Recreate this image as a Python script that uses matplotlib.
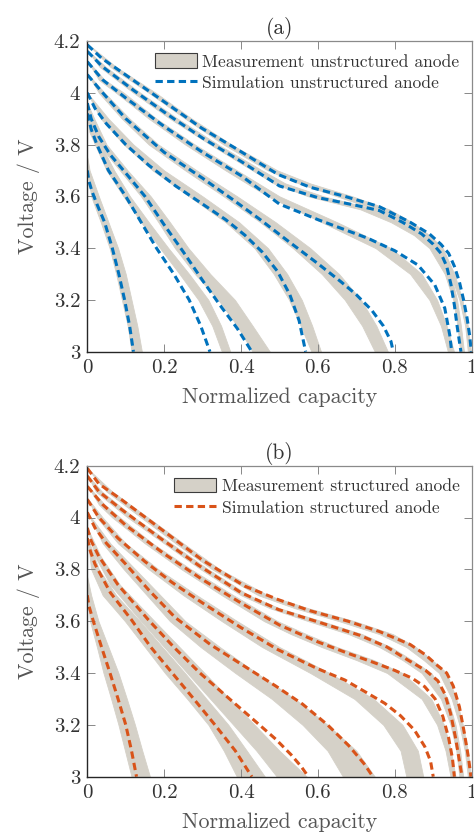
import matplotlib
matplotlib.use("Agg")
import matplotlib.pyplot as plt
from matplotlib.patches import Patch
from matplotlib.lines import Line2D

plt.rcParams['font.family'] = ['cmr10', 'DejaVu Serif']
plt.rcParams['axes.formatter.use_mathtext'] = True
plt.rcParams['mathtext.fontset'] = 'cm'

# ---------------- data: panel (a) unstructured anode ----------------
# simulation curves (capacity, voltage)
a_sim_x = [
    [0, 0.037, 0.124, 0.211, 0.297, 0.384, 0.497, 0.58, 0.67, 0.76, 0.84, 0.89, 0.92, 0.94, 0.955, 0.968, 0.979, 0.988, 0.995, 0.999],
    [0, 0.04, 0.12, 0.21, 0.30, 0.40, 0.50, 0.60, 0.70, 0.76, 0.82, 0.87, 0.90, 0.92, 0.935, 0.946, 0.955, 0.962, 0.968, 0.972],
    [0, 0.04, 0.10, 0.20, 0.30, 0.40, 0.50, 0.60, 0.73, 0.80, 0.86, 0.904, 0.93, 0.943, 0.948],
    [0, 0.04, 0.10, 0.20, 0.30, 0.38, 0.45, 0.52, 0.60, 0.66, 0.70, 0.74, 0.77, 0.79, 0.796],
    [0, 0.02, 0.05, 0.10, 0.16, 0.23, 0.30, 0.36, 0.41, 0.455, 0.495, 0.527, 0.551, 0.568],
    [0, 0.01, 0.03, 0.06, 0.10, 0.15, 0.20, 0.25, 0.30, 0.345, 0.39, 0.428],
    [0, 0.01, 0.025, 0.055, 0.10, 0.14, 0.18, 0.225, 0.265, 0.295, 0.319],
    [0, 0.004, 0.012, 0.025, 0.045, 0.065, 0.082, 0.097, 0.11, 0.12],
]
a_sim_v = [
    [4.185, 4.134, 4.044, 3.954, 3.864, 3.787, 3.684, 3.635, 3.60, 3.56, 3.50, 3.455, 3.415, 3.38, 3.33, 3.27, 3.20, 3.13, 3.06, 3.0],
    [4.16, 4.10, 4.01, 3.915, 3.825, 3.735, 3.64, 3.595, 3.565, 3.545, 3.50, 3.455, 3.415, 3.38, 3.33, 3.26, 3.18, 3.10, 3.04, 3.0],
    [4.12, 4.05, 3.98, 3.87, 3.77, 3.68, 3.57, 3.51, 3.438, 3.39, 3.335, 3.258, 3.168, 3.064, 3.0],
    [4.07, 4.0, 3.90, 3.77, 3.67, 3.586, 3.51, 3.43, 3.34, 3.27, 3.22, 3.16, 3.10, 3.04, 3.0],
    [4.0, 3.94, 3.88, 3.80, 3.72, 3.64, 3.57, 3.51, 3.45, 3.385, 3.31, 3.22, 3.12, 3.0],
    [3.96, 3.90, 3.83, 3.76, 3.69, 3.60, 3.49, 3.385, 3.275, 3.18, 3.09, 3.0],
    [3.92, 3.86, 3.80, 3.70, 3.60, 3.50, 3.40, 3.30, 3.20, 3.10, 3.0],
    [3.70, 3.66, 3.62, 3.57, 3.50, 3.40, 3.30, 3.20, 3.10, 3.0],
]
# measurement bands: voltage levels with left / right capacity edge
a_band_v = [
    [4.19, 4.1, 4.0, 3.9, 3.8, 3.7, 3.65, 3.6, 3.55, 3.5, 3.45, 3.4, 3.3, 3.2, 3.1, 3.0],
    [4.165, 4.1, 4.0, 3.9, 3.8, 3.7, 3.65, 3.6, 3.55, 3.5, 3.45, 3.4, 3.3, 3.2, 3.1, 3.0],
    [4.125, 4.05, 4.0, 3.9, 3.8, 3.7, 3.6, 3.55, 3.5, 3.45, 3.4, 3.3, 3.2, 3.1, 3.0],
    [4.075, 4.0, 3.9, 3.8, 3.7, 3.6, 3.5, 3.4, 3.3, 3.2, 3.1, 3.0],
    [4.0, 3.9, 3.8, 3.7, 3.6, 3.5, 3.4, 3.3, 3.2, 3.1, 3.0],
    [3.96, 3.9, 3.8, 3.7, 3.6, 3.5, 3.4, 3.3, 3.2, 3.1, 3.0],
    [3.925, 3.85, 3.8, 3.7, 3.6, 3.5, 3.4, 3.3, 3.2, 3.1, 3.0],
    [3.75, 3.7, 3.6, 3.5, 3.4, 3.3, 3.2, 3.1, 3.0],
]
a_band_lo = [
    [0, 0.06, 0.16, 0.255, 0.355, 0.47, 0.55, 0.65, 0.75, 0.82, 0.87, 0.905, 0.945, 0.968, 0.983, 0.99],
    [0, 0.032, 0.12, 0.215, 0.32, 0.43, 0.485, 0.575, 0.71, 0.79, 0.85, 0.89, 0.93, 0.952, 0.963, 0.97],
    [0, 0.03, 0.075, 0.16, 0.255, 0.36, 0.47, 0.54, 0.61, 0.68, 0.75, 0.84, 0.89, 0.92, 0.938],
    [0, 0.03, 0.09, 0.16, 0.255, 0.355, 0.45, 0.535, 0.61, 0.67, 0.715, 0.748],
    [0, 0.035, 0.095, 0.17, 0.265, 0.36, 0.435, 0.485, 0.525, 0.555, 0.583],
    [0, 0.005, 0.03, 0.085, 0.14, 0.185, 0.228, 0.28, 0.341, 0.39, 0.43],
    [0, 0.005, 0.02, 0.05, 0.094, 0.14, 0.189, 0.24, 0.289, 0.325, 0.35],
    [0, 0, 0.01, 0.035, 0.058, 0.075, 0.09, 0.105, 0.115],
]
a_band_hi = [
    [0, 0.075, 0.178, 0.272, 0.375, 0.495, 0.58, 0.69, 0.785, 0.845, 0.89, 0.925, 0.955, 0.976, 0.99, 0.998],
    [0, 0.048, 0.138, 0.235, 0.34, 0.455, 0.515, 0.615, 0.75, 0.815, 0.87, 0.91, 0.945, 0.962, 0.972, 0.98],
    [0, 0.045, 0.095, 0.18, 0.28, 0.39, 0.50, 0.575, 0.65, 0.72, 0.79, 0.87, 0.91, 0.935, 0.954],
    [0, 0.045, 0.11, 0.185, 0.285, 0.39, 0.49, 0.58, 0.655, 0.712, 0.752, 0.782],
    [0, 0.055, 0.12, 0.20, 0.30, 0.395, 0.47, 0.52, 0.558, 0.585, 0.608],
    [0, 0.018, 0.05, 0.105, 0.165, 0.215, 0.263, 0.32, 0.384, 0.43, 0.475],
    [0, 0.015, 0.035, 0.07, 0.111, 0.16, 0.211, 0.265, 0.315, 0.348, 0.372],
    [0, 0.006, 0.03, 0.055, 0.08, 0.10, 0.115, 0.13, 0.142],
]

# ---------------- data: panel (b) structured anode ----------------
b_sim_x = [
    [0, 0.03, 0.089, 0.194, 0.298, 0.41, 0.497, 0.58, 0.678, 0.76, 0.84, 0.88, 0.91, 0.935, 0.952, 0.968, 0.981, 0.992, 0.998],
    [0, 0.03, 0.09, 0.19, 0.29, 0.40, 0.497, 0.609, 0.71, 0.78, 0.834, 0.88, 0.912, 0.93, 0.945, 0.958, 0.967, 0.975],
    [0, 0.04, 0.10, 0.20, 0.30, 0.40, 0.50, 0.60, 0.68, 0.739, 0.80, 0.845, 0.878, 0.905, 0.925, 0.94, 0.95, 0.955],
    [0, 0.03, 0.08, 0.15, 0.22, 0.30, 0.40, 0.496, 0.597, 0.67, 0.72, 0.774, 0.815, 0.851, 0.878, 0.893, 0.9],
    [0, 0.02, 0.05, 0.10, 0.16, 0.228, 0.32, 0.41, 0.49, 0.56, 0.625, 0.68, 0.72, 0.743],
    [0, 0.01, 0.03, 0.08, 0.159, 0.225, 0.293, 0.37, 0.44, 0.49, 0.53, 0.556, 0.575],
    [0, 0.008, 0.02, 0.06, 0.115, 0.165, 0.221, 0.277, 0.332, 0.385, 0.428],
    [0, 0.004, 0.0157, 0.037, 0.059, 0.08, 0.10, 0.115, 0.128],
]
b_sim_v = [
    [4.19, 4.13, 4.069, 3.953, 3.837, 3.735, 3.683, 3.64, 3.60, 3.56, 3.51, 3.47, 3.43, 3.40, 3.35, 3.27, 3.168, 3.07, 3.0],
    [4.16, 4.10, 4.03, 3.92, 3.815, 3.71, 3.645, 3.593, 3.545, 3.50, 3.45, 3.41, 3.37, 3.32, 3.245, 3.15, 3.07, 3.0],
    [4.12, 4.05, 3.97, 3.86, 3.76, 3.67, 3.585, 3.52, 3.475, 3.444, 3.41, 3.38, 3.347, 3.30, 3.232, 3.15, 3.07, 3.0],
    [4.07, 4.0, 3.92, 3.83, 3.75, 3.67, 3.575, 3.49, 3.418, 3.373, 3.33, 3.283, 3.235, 3.18, 3.116, 3.06, 3.0],
    [4.02, 3.96, 3.90, 3.82, 3.72, 3.615, 3.51, 3.425, 3.35, 3.28, 3.20, 3.12, 3.05, 3.0],
    [3.96, 3.91, 3.85, 3.74, 3.605, 3.50, 3.40, 3.30, 3.21, 3.145, 3.085, 3.04, 3.0],
    [3.92, 3.87, 3.82, 3.71, 3.605, 3.50, 3.40, 3.30, 3.20, 3.10, 3.0],
    [3.70, 3.66, 3.60, 3.50, 3.40, 3.30, 3.20, 3.10, 3.0],
]
b_band_v = [
    [4.19, 4.1, 4.0, 3.9, 3.8, 3.7, 3.65, 3.6, 3.55, 3.5, 3.45, 3.4, 3.3, 3.2, 3.1, 3.0],
    [4.165, 4.1, 4.0, 3.9, 3.8, 3.7, 3.65, 3.6, 3.55, 3.5, 3.45, 3.4, 3.3, 3.2, 3.1, 3.0],
    [4.125, 4.05, 4.0, 3.9, 3.8, 3.7, 3.6, 3.55, 3.5, 3.45, 3.4, 3.3, 3.2, 3.1, 3.0],
    [4.075, 4.0, 3.9, 3.8, 3.7, 3.6, 3.5, 3.4, 3.3, 3.2, 3.1, 3.0],
    [4.02, 3.9, 3.8, 3.7, 3.6, 3.5, 3.4, 3.3, 3.2, 3.1, 3.0],
    [3.96, 3.85, 3.74, 3.6, 3.5, 3.4, 3.3, 3.2, 3.1, 3.0],
    [3.925, 3.8, 3.7, 3.6, 3.5, 3.4, 3.3, 3.2, 3.1, 3.0],
    [3.77, 3.7, 3.6, 3.5, 3.4, 3.3, 3.2, 3.1, 3.0],
]
b_band_lo = [
    [0, 0.05, 0.14, 0.23, 0.325, 0.445, 0.54, 0.655, 0.76, 0.83, 0.875, 0.915, 0.948, 0.968, 0.982, 0.99],
    [0, 0.022, 0.105, 0.20, 0.295, 0.40, 0.475, 0.575, 0.68, 0.76, 0.82, 0.87, 0.92, 0.945, 0.96, 0.968],
    [0, 0.03, 0.065, 0.15, 0.245, 0.35, 0.46, 0.53, 0.61, 0.70, 0.78, 0.87, 0.91, 0.932, 0.945],
    [0, 0.025, 0.08, 0.16, 0.25, 0.35, 0.455, 0.58, 0.695, 0.77, 0.815, 0.83],
    [0, 0.04, 0.095, 0.155, 0.215, 0.295, 0.385, 0.48, 0.56, 0.625, 0.665],
    [0, 0.02, 0.06, 0.14, 0.20, 0.26, 0.32, 0.38, 0.44, 0.493],
    [0, 0.01, 0.04, 0.098, 0.15, 0.202, 0.26, 0.315, 0.355, 0.389],
    [0, 0, 0.007, 0.025, 0.042, 0.062, 0.081, 0.098, 0.115],
]
b_band_hi = [
    [0, 0.065, 0.158, 0.25, 0.345, 0.47, 0.575, 0.695, 0.795, 0.855, 0.897, 0.935, 0.96, 0.977, 0.99, 0.998],
    [0, 0.038, 0.122, 0.218, 0.315, 0.42, 0.50, 0.61, 0.715, 0.79, 0.845, 0.895, 0.938, 0.958, 0.97, 0.978],
    [0, 0.045, 0.085, 0.17, 0.27, 0.38, 0.495, 0.57, 0.65, 0.745, 0.82, 0.895, 0.928, 0.946, 0.958],
    [0, 0.04, 0.10, 0.185, 0.285, 0.39, 0.50, 0.63, 0.745, 0.82, 0.86, 0.874],
    [0, 0.06, 0.125, 0.19, 0.255, 0.345, 0.44, 0.54, 0.625, 0.70, 0.748],
    [0, 0.035, 0.085, 0.175, 0.24, 0.305, 0.37, 0.435, 0.50, 0.571],
    [0, 0.03, 0.075, 0.137, 0.195, 0.254, 0.31, 0.367, 0.415, 0.462],
    [0, 0.01, 0.029, 0.055, 0.081, 0.103, 0.124, 0.143, 0.163],
]

xticks = [0, 0.2, 0.4, 0.6, 0.8, 1]
xticklabels = ['0', '0.2', '0.4', '0.6', '0.8', '1']
yticks = [3, 3.2, 3.4, 3.6, 3.8, 4, 4.2]
yticklabels = ['3', '3.2', '3.4', '3.6', '3.8', '4', '4.2']

BAND = '#d5d1c8'
BLUE = '#0072bd'
ORANGE = '#d95319'
TXT = '#333333'
LBL = '#555555'
DASH = (0, (2.4, 1.4))


def draw_panel(ax, band_v, band_lo, band_hi, sim_x, sim_v, color, title, leg_meas, leg_sim):
    for v, lo, hi in zip(band_v, band_lo, band_hi):
        ax.fill_betweenx(v, lo, hi, color=BAND, lw=0.6, edgecolor=BAND)
    for x, v in zip(sim_x, sim_v):
        ax.plot(x, v, color=color, lw=2.2, ls=DASH, dash_capstyle='butt')

    ax.set_xlim(0, 1)
    ax.set_ylim(3, 4.2)
    ax.set_xticks(xticks)
    ax.set_xticklabels(xticklabels)
    ax.set_yticks(yticks)
    ax.set_yticklabels(yticklabels)
    ax.tick_params(direction='in', length=6, width=0.7, colors='#888888',
                   labelcolor=TXT, labelsize=15, top=True, right=True, pad=5)
    for s in ['left', 'bottom']:
        ax.spines[s].set_color('#262626')
        ax.spines[s].set_linewidth(1.0)
    for s in ['top', 'right']:
        ax.spines[s].set_color('#8a8a8a')
        ax.spines[s].set_linewidth(0.9)

    ax.set_title(title, fontsize=15.5, color=TXT, pad=5)
    ax.set_xlabel('Normalized capacity', fontsize=15.8, color=LBL, labelpad=8)
    ax.set_ylabel('Voltage / V', fontsize=15.8, color=LBL, labelpad=10)

    handles = [Patch(facecolor=BAND, edgecolor='#3c3c3c', lw=0.8),
               Line2D([], [], color=color, lw=2.2, ls=DASH)]
    ax.legend(handles, [leg_meas, leg_sim], loc='upper right', frameon=False,
              fontsize=12.6, handlelength=2.4, handleheight=0.9, handletextpad=0.3,
              labelspacing=0.3, borderaxespad=0.3, labelcolor=TXT)


fig = plt.figure(figsize=(4.74, 8.32), dpi=100)
ax1 = fig.add_axes([0.1842, 0.5773, 0.8109, 0.3734])
ax2 = fig.add_axes([0.1842, 0.0665, 0.8109, 0.3738])

draw_panel(ax1, a_band_v, a_band_lo, a_band_hi, a_sim_x, a_sim_v, BLUE, '(a)',
           'Measurement unstructured anode', 'Simulation unstructured anode')
draw_panel(ax2, b_band_v, b_band_lo, b_band_hi, b_sim_x, b_sim_v, ORANGE, '(b)',
           'Measurement structured anode', 'Simulation structured anode')

fig.savefig('out.png', dpi=100)
